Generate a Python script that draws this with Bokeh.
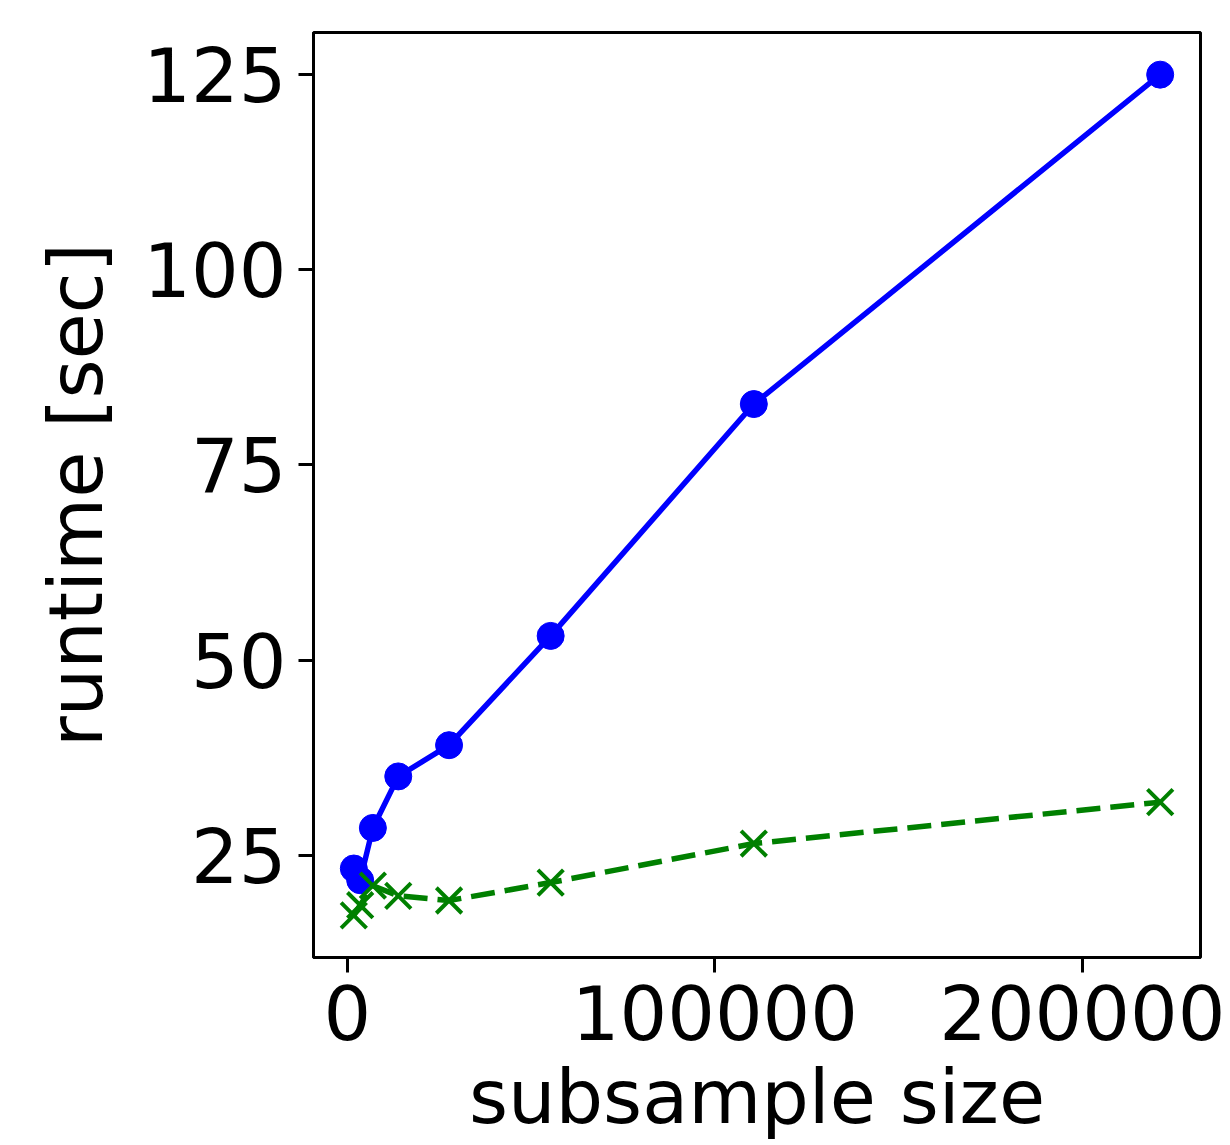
from bokeh.plotting import figure
from bokeh.models import Range1d, FixedTicker, BasicTickFormatter
from bokeh.embed import file_html
from bokeh.resources import INLINE

# data
subsample_size = [1728, 3456, 6912, 13824, 27648, 55296, 110592, 221184]
runtime_blue = [23.3, 21.8, 28.5, 35.1, 39.1, 53.1, 82.8, 125.0]
runtime_green = [17.3, 18.6, 21.1, 19.8, 19.2, 21.5, 26.5, 31.8]
x_ticks = [0, 100000, 200000]
y_ticks = [25, 50, 75, 100, 125]

FONT = "DejaVu Sans"
FS = "75px"

p = figure(width=1230, height=1145, output_backend="svg", toolbar_location=None,
           x_range=Range1d(-9245, 232157), y_range=Range1d(11.9, 130.4),
           min_border_left=313, min_border_right=30, min_border_top=32, min_border_bottom=188)

p.line(subsample_size, runtime_blue, line_color="#0000ff", line_width=5.5)
p.scatter(subsample_size, runtime_blue, marker="circle", size=27,
          fill_color="#0000ff", line_color="#0000ff")

p.line(subsample_size, runtime_green, line_color="#008000", line_width=5.5, line_dash="24 10")
p.scatter(subsample_size, runtime_green, marker="x", size=36,
          line_color="#008000", line_width=4)

p.xgrid.visible = False
p.ygrid.visible = False
p.outline_line_color = "black"
p.outline_line_width = 3
p.outline_line_alpha = 1

p.xaxis.ticker = FixedTicker(ticks=x_ticks)
p.yaxis.ticker = FixedTicker(ticks=y_ticks)
p.xaxis.formatter = BasicTickFormatter(use_scientific=False)
p.xaxis.axis_label = "subsample size"
p.yaxis.axis_label = "runtime [sec]"

for ax in (p.xaxis[0], p.yaxis[0]):
    ax.axis_line_width = 3
    ax.axis_line_color = "black"
    ax.major_tick_line_width = 3
    ax.major_tick_line_color = "black"
    ax.major_tick_out = 15
    ax.major_tick_in = 0
    ax.minor_tick_line_color = None
    ax.major_label_text_font = FONT
    ax.major_label_text_font_size = FS
    ax.major_label_text_color = "black"
    ax.axis_label_text_font = FONT
    ax.axis_label_text_font_size = FS
    ax.axis_label_text_font_style = "normal"
    ax.axis_label_text_color = "black"
    ax.major_label_standoff = 12

p.xaxis[0].axis_label_standoff = 10
p.yaxis[0].axis_label_standoff = 20

open("out.html", "w").write(file_html(p, INLINE))
